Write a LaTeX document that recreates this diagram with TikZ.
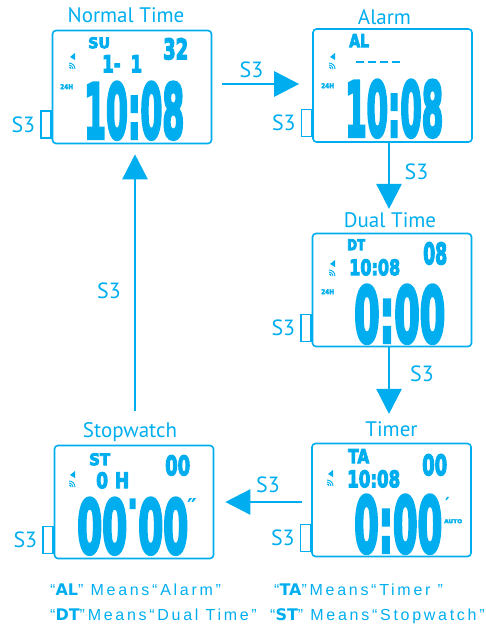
\documentclass[tikz,border=0pt]{standalone}
\usepackage{fontspec}
\usepackage{graphicx}
\setmainfont{PT Sans}
\newfontfamily\legendfont[LetterSpace=17]{Liberation Sans}
\newfontfamily\lcdfont{DejaVu Sans}
\usetikzlibrary{arrows.meta,positioning}
\definecolor{lcdblue}{RGB}{0,174,239}
% squeeze a display text into a w x h box, drawn a little heavier
\newcommand{\lcd}[3]{\resizebox{#1pt}{#2pt}{\special{pdf:literal 2 Tr 0.5 w}\lcdfont\bfseries #3\special{pdf:literal 0 Tr}}}
\newcommand{\minmark}{\raisebox{0.4em}{\scalebox{1}[0.45]{'}}}

\tikzset{
  screen/.style={draw=lcdblue, line width=1.6pt, rounded corners=3.5pt, inner sep=0pt,
    minimum width=159pt, minimum height=113pt},
  tab/.style={draw=lcdblue, line width=1.3pt, inner sep=0pt, minimum width=10pt,
    minimum height=27pt, anchor=south east},
  title/.style={text=lcdblue, font=\fontsize{21}{21}\selectfont, anchor=base, inner sep=2pt},
  keylabel/.style={text=lcdblue, font=\fontsize{22}{22}\selectfont, inner sep=0pt},
  lcdtext/.style={text=lcdblue, inner sep=0pt, anchor=north west},
  primemark/.style={text=lcdblue, inner sep=0pt, anchor=base west, font=\lcdfont\bfseries\fontsize{#1}{#1}\selectfont},
  legend/.style={text=lcdblue, font=\legendfont\fontsize{16}{16}\selectfont, anchor=base west, inner sep=0pt},
  flow/.style={draw=lcdblue, line width=2.6pt, -{Triangle[length=25pt,width=25pt]}},
  icons/.pic={
    \fill[lcdblue] (-2,-3) -- (3,-7) -- (3,0) -- cycle;
    \foreach \r in {2,4,6}
      \draw[lcdblue, line width=0.9pt] (-3,9) ++(0,-\r) arc[start angle=270, end angle=360, radius=\r];
  }
}

\begin{document}
\begin{tikzpicture}[x=1pt, y=-1pt]
  \useasboundingbox (0,0) rectangle (486,628);

  % Normal Time
  \node[title] (normaltitle) at (126,23) {Normal Time};
  \node[screen] (normal) at (132,87) {};
  \node[tab] (normaltab) at ([yshift=5.5pt]normal.south west) {};
  \node[keylabel, left=5pt of normaltab] (normalkey) {S3};
  \node[lcdtext] (normalday) at (88,37) {\lcd{22}{11}{SU}};
  \node[lcdtext] (normalsec) at (163,38) {\lcd{25}{21}{32}};
  \node[lcdtext] (normaldate) at (102,55) {\lcd{40}{17}{1-\hspace{0.6em}1}};
  \node[lcdtext] (normalhr) at (60,84) {\lcd{13}{5}{24H}};
  \node[lcdtext] (normaltime) at (84,82) {\lcd{100}{56}{10:08}};
  \pic at (72,60) {icons};

  % Alarm
  \node[title] (alarmtitle) at (384.5,25) {Alarm};
  \node[screen] (alarm) at (392.5,85.5) {};
  \node[tab] (alarmtab) at ([yshift=5.5pt]alarm.south west) {};
  \node[keylabel, left=5pt of alarmtab] (alarmkey) {S3};
  \node[lcdtext] (alarmmode) at (349,34) {\lcd{20}{13}{AL}};
  \draw[lcdblue, line width=2pt, dash pattern=on 8pt off 4pt] (356,62) -- (400,62);
  \node[lcdtext] (alarmhr) at (321,83) {\lcd{13}{5}{24H}};
  \node[lcdtext] (alarmtime) at (345,80) {\lcd{98}{56}{10:08}};
  \pic at (332,60) {icons};

  % Dual Time
  \node[title] (dualtitle) at (390,227) {Dual Time};
  \node[screen] (dual) at (392,290) {};
  \node[tab] (dualtab) at ([yshift=5.5pt]dual.south west) {};
  \node[keylabel, left=5pt of dualtab] (dualkey) {S3};
  \node[lcdtext] (dualmode) at (347,239) {\lcd{18}{11}{DT}};
  \node[lcdtext] (dualsec) at (423,242) {\lcd{24}{22}{08}};
  \node[lcdtext] (dualhome) at (349,259) {\lcd{51}{16}{10:08}};
  \node[lcdtext] (dualhr) at (321,289) {\lcd{13}{5}{24H}};
  \node[lcdtext] (dualtime) at (354,285) {\lcd{91}{57}{0:00}};
  \pic at (332,267) {icons};

  % Timer
  \node[title] (timertitle) at (391.5,436) {Timer};
  \node[screen] (timer) at (391.5,500) {};
  \node[tab] (timertab) at ([yshift=5.5pt]timer.south west) {};
  \node[keylabel, left=5pt of timertab] (timerkey) {S3};
  \node[lcdtext] (timermode) at (348,449) {\lcd{21}{14}{TA}};
  \node[lcdtext] (timersec) at (422,454) {\lcd{25}{21}{00}};
  \node[lcdtext] (timerhome) at (347,470) {\lcd{53}{17}{10:08}};
  \node[lcdtext] (timertime) at (354,495) {\lcd{88}{57}{0:00}};
  \node[primemark=18] (timermin) at (445,510.5) {′};
  \node[lcdtext] (timerauto) at (444,519) {\lcd{18}{4}{AUTO}};
  \pic at (330,477) {icons};

  % Stopwatch
  \node[title] (swtitle) at (130,437) {Stopwatch};
  \node[screen] (sw) at (134,502) {};
  \node[tab] (swtab) at ([yshift=5.5pt]sw.south west) {};
  \node[keylabel, left=5pt of swtab] (swkey) {S3};
  \node[lcdtext] (swmode) at (89,453) {\lcd{21}{12}{ST}};
  \node[lcdtext] (swsec) at (165,455) {\lcd{25}{20}{00}};
  \node[lcdtext] (swhour) at (96,472) {\lcd{33}{16}{0\hspace{0.4em}H}};
  \node[lcdtext] (swtime) at (77,498) {\lcd{111}{55}{00\minmark00}};
  \node[primemark=22] (swsecmark) at (187,514) {″};
  \pic at (72,478) {icons};

  % S3 steps
  \draw[flow, shorten <=10pt, shorten >=13pt] ([yshift=3pt]normal.east) -- ([yshift=3pt]normal.east -| alarm.west);
  \node[keylabel] (step1) at (251.5,70) {S3};
  \draw[flow, shorten >=1pt] ([xshift=-3.5pt]alarm.south) -- ([xshift=-3.5pt]alarm.south |- dualtitle.north);
  \node[keylabel] (step2) at (416.5,171.5) {S3};
  \draw[flow, shorten >=5pt] ([xshift=-3pt]dual.south) -- ([xshift=-3pt]dual.south |- timertitle.north);
  \node[keylabel] (step3) at (422,373.5) {S3};
  \draw[flow, shorten <=9pt, shorten >=11pt] ([yshift=-2pt]timer.west) -- ([yshift=-2pt]timer.west -| sw.east);
  \node[keylabel] (step4) at (268,484.5) {S3};
  \draw[flow, shorten <=9pt, shorten >=10pt] ([xshift=5pt]swtitle.north) -- ([xshift=5pt]swtitle.north |- normal.south);
  \node[keylabel] (step5) at (109,291) {S3};

  % legend
  \node[legend] (keyal) at (50,595) {“{\lcdfont\bfseries AL}” Means“Alarm”};
  \node[legend] (keyta) at (274,595) {“{\lcdfont\bfseries TA}”Means“Timer ”};
  \node[legend] (keydt) at (50,620) {“{\lcdfont\bfseries DT}”Means“Dual Time”};
  \node[legend] (keyst) at (270,620) {“{\lcdfont\bfseries ST}” Means“Stopwatch”};
\end{tikzpicture}
\end{document}
